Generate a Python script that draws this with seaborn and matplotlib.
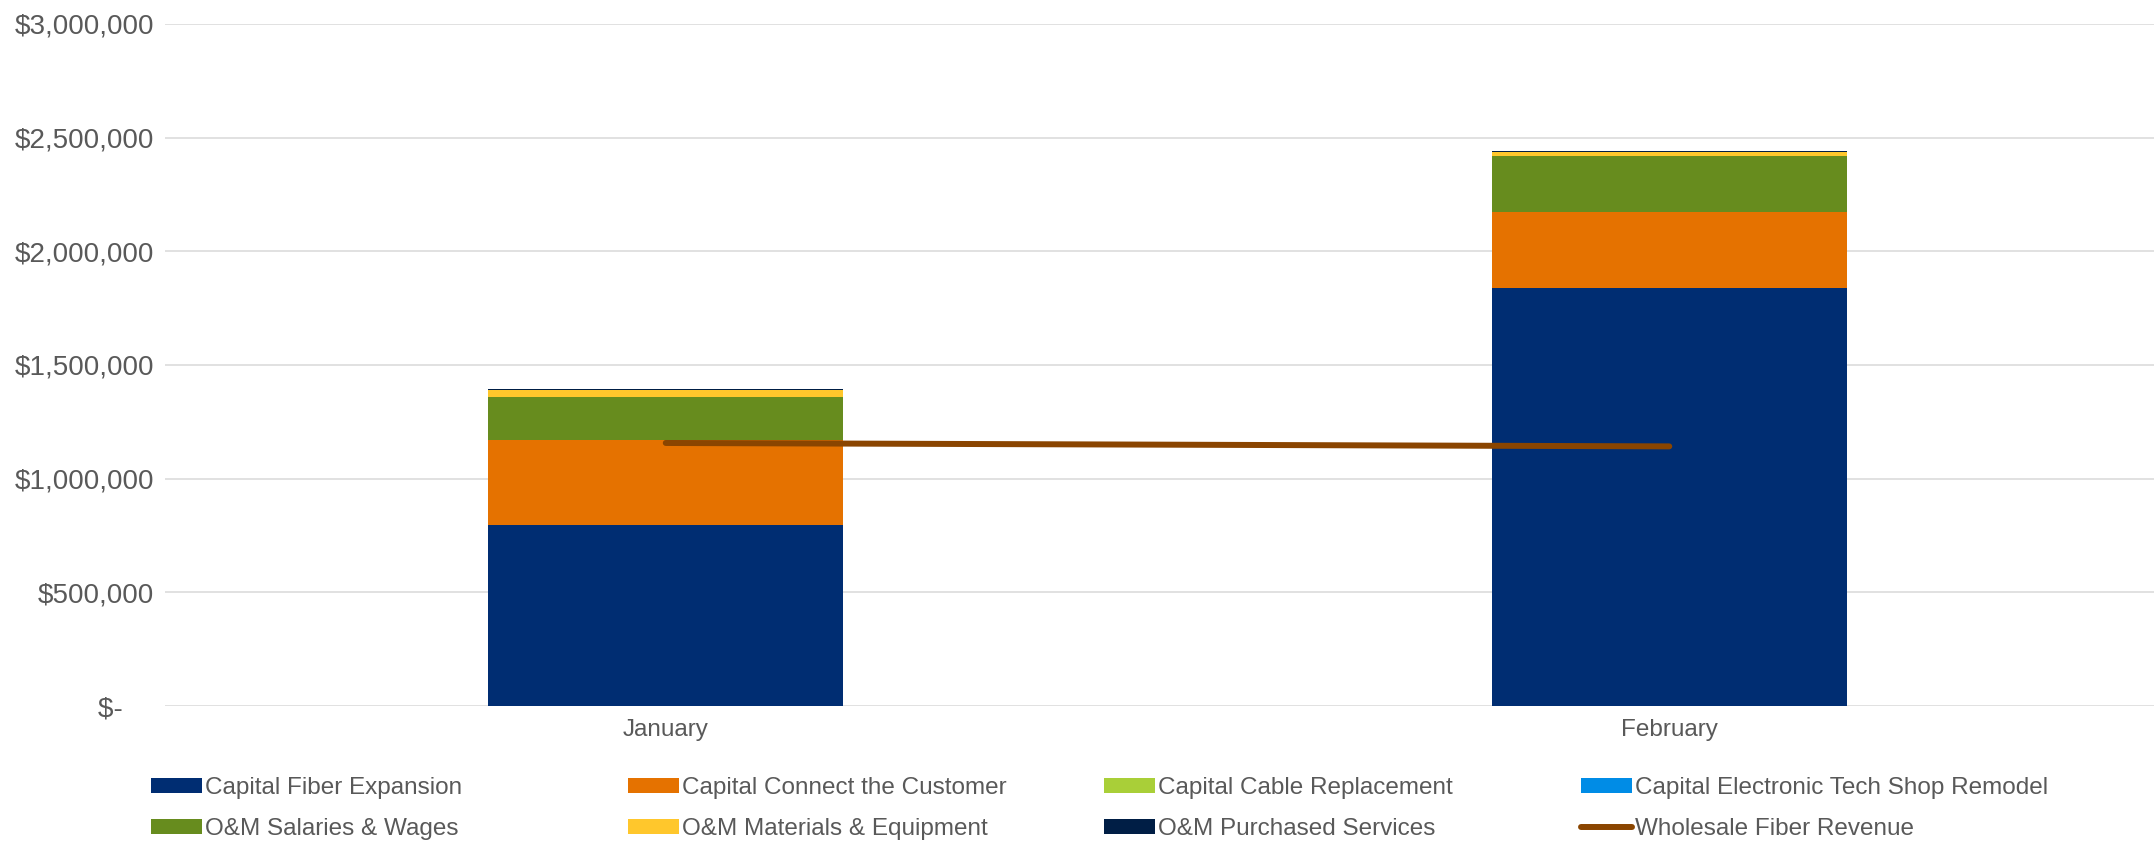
import numpy as np
import matplotlib
matplotlib.use("Agg")
import matplotlib.pyplot as plt
from matplotlib.patches import Patch
from matplotlib.lines import Line2D
from matplotlib.ticker import FuncFormatter, MultipleLocator
import seaborn as sns

# ---------------- data ----------------
months = ["January", "February"]
series_names = [
    "Capital Fiber Expansion",
    "Capital Connect the Customer",
    "Capital Cable Replacement",
    "Capital Electronic Tech Shop Remodel",
    "O&M Salaries & Wages",
    "O&M Materials & Equipment",
    "O&M Purchased Services",
]
capital_fiber_expansion = [798000, 1840000]
capital_connect_customer = [370000, 332000]
capital_cable_replacement = [3000, 0]
capital_tech_shop_remodel = [0, 3000]
om_salaries_wages = [188000, 246000]
om_materials_equipment = [30000, 14000]
om_purchased_services = [4000, 6000]
wholesale_fiber_revenue = [1157000, 1142000]
line_name = "Wholesale Fiber Revenue"

series_values = [
    capital_fiber_expansion,
    capital_connect_customer,
    capital_cable_replacement,
    capital_tech_shop_remodel,
    om_salaries_wages,
    om_materials_equipment,
    om_purchased_services,
]
colors = ["#002D72", "#E57200", "#A9CF38", "#008CE6",
          "#678C1E", "#FFC72C", "#001E45"]
line_color = "#8A4500"

# ---------------- style ----------------
sns.set_theme(style="white")
plt.rcParams["font.family"] = ["Liberation Sans", "DejaVu Sans"]
text_color = "#595959"

W, H = 2154, 841
fig = plt.figure(figsize=(W / 100, H / 100), dpi=100)
ax = fig.add_axes([165 / W, 0.1605, 1 - 165 / W, 0.811])

# stacked bars via layering cumulative totals (top first)
cum = np.cumsum(np.array(series_values, dtype=float), axis=0)
for i in range(len(series_values) - 1, -1, -1):
    sns.barplot(x=months, y=cum[i], color=colors[i], saturation=1,
                width=0.354, linewidth=0, order=months, ax=ax, zorder=2)

# revenue line
sns.lineplot(x=np.arange(len(months)), y=wholesale_fiber_revenue,
             color=line_color, linewidth=4.3, ax=ax, zorder=3,
             solid_capstyle="round")

ax.set_xlim(-0.499, 1.483)
ax.set_ylim(0, 3000000)
ax.yaxis.set_major_locator(MultipleLocator(500000))
ax.yaxis.set_major_formatter(FuncFormatter(
    lambda v, p: "$-    " if v == 0 else "${:,.0f}".format(v)))
ax.set_xlabel("")
ax.set_ylabel("")
ax.grid(axis="y", color="#D9D9D9", linewidth=1.1)
ax.grid(axis="x", visible=False)
ax.set_axisbelow(True)
for s in ax.spines.values():
    s.set_visible(False)
ax.tick_params(axis="y", length=0, pad=8, labelsize=20, labelcolor=text_color)
ax.tick_params(axis="x", length=0, pad=9, labelsize=17.5, labelcolor=text_color)

# legend: 4 columns, 2 rows (row-major like the reference)
handles = [Patch(facecolor=c, edgecolor="none") for c in colors]
handles.append(Line2D([0], [0], color=line_color, linewidth=4.3,
                      solid_capstyle="round"))
labels = series_names + [line_name]
col_x = [151, 628, 1104, 1581]
for j in range(4):
    idx = [j, j + 4]
    fig.legend([handles[k] for k in idx], [labels[k] for k in idx],
               loc="upper left", bbox_to_anchor=(col_x[j] / W, 0.076),
               frameon=False, fontsize=17.5, labelcolor=text_color,
               handlelength=2.1, handleheight=0.55, handletextpad=0.12,
               labelspacing=0.79, borderpad=0, borderaxespad=0)

fig.savefig("out.png", dpi=100)
